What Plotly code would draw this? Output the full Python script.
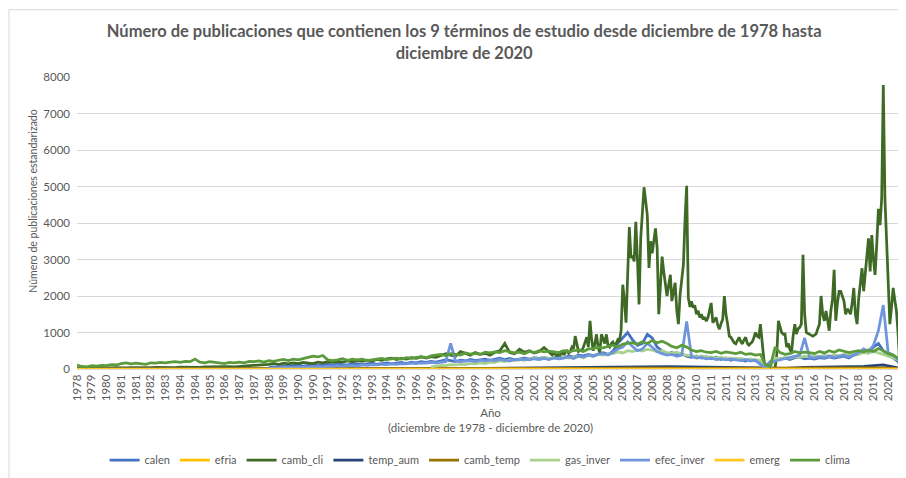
import pandas as pd
import plotly.graph_objects as go

# values (standardised publication counts)

# camb_cli: quarterly 1978-12 .. 2002-12, then monthly 2003-01 .. 2020-12
CAMB_CLI_EARLY = [
    20, 15, 25, 20, 30, 25, 20, 30, 35, 25,
    30, 40, 35, 30, 40, 35, 45, 40, 50, 45,
    40, 50, 45, 55, 50, 45, 55, 60, 50, 60,
    55, 65, 60, 70, 65, 80, 90, 110, 100, 130,
    150, 120, 160, 140, 170, 150, 180, 160, 150, 190,
    170, 200, 180, 210, 190, 220, 200, 230, 210, 240,
    220, 260, 240, 280, 300, 260, 290, 270, 310, 290,
    330, 300, 340, 320, 360, 420, 380, 350, 480, 420,
    380, 450, 400, 430, 380, 460, 500, 700, 450, 420,
    540, 460, 500, 440, 480, 590, 450,
]
CAMB_CLI_LATE = [
    420, 380, 450, 400, 350, 420, 400, 500, 380, 450,
    520, 430, 480, 600, 550, 900, 650, 480, 520, 500,
    600, 750, 870, 600, 1320, 800, 500, 700, 950, 600,
    450, 950, 800, 700, 950, 650, 600, 700, 740, 650,
    700, 800, 750, 1050, 2310, 1900, 1270, 2600, 3890, 3040,
    3100, 2950, 4030, 3000, 1770, 3580, 4200, 4980, 4600, 4210,
    2770, 3500, 3170, 3600, 3850, 3310, 1500, 2300, 3080, 2670,
    2300, 2000, 2300, 2580, 1860, 2100, 2360, 1600, 1230, 2040,
    2500, 2850, 4100, 5020, 1950, 1700, 1850, 1680, 1750, 1500,
    1600, 1410, 1500, 1360, 1420, 1310, 1410, 1650, 1810, 1270,
    1350, 1410, 1200, 1090, 1250, 1360, 2000, 1500, 1230, 900,
    870, 780, 720, 690, 800, 870, 750, 690, 800, 870,
    700, 650, 700, 740, 850, 1000, 900, 870, 1230, 700,
    300, 30, 0, 0, 0, 0, 0, 30, 400, 1320,
    1150, 1000, 950, 960, 600, 700, 550, 450, 900, 1230,
    960, 1100, 1140, 1230, 3126, 1500, 1000, 980, 960, 920,
    900, 930, 960, 1100, 1230, 2000, 1500, 1320, 1590, 1320,
    1050, 1590, 1900, 2720, 1320, 1800, 2130, 2130, 2000, 1860,
    1500, 1650, 1590, 1500, 1800, 2220, 1500, 1230, 1950, 2400,
    2760, 2130, 2580, 3100, 3580, 2670, 3670, 3000, 2580, 3400,
    4390, 3940, 4660, 7780, 4660, 3490, 2130, 1230, 1680, 2220,
    1900, 1590, 960, 90, 0, 0,
]

# clima: quarterly 1978-12 .. 2020-12
CLIMA = [
    110,
    70, 60, 90, 80,  100, 90, 120, 110,  150, 170, 140, 160,
    150, 130, 170, 160,  180, 170, 190, 200,  180, 210, 200, 270,
    190, 170, 200, 180,  160, 150, 180, 170,  190, 170, 210, 200,
    220, 190, 230, 210,  240, 260, 230, 270,  250, 280, 300, 350,
    330, 370, 250, 230,  250, 280, 240, 270,  250, 270, 230, 260,
    270, 290, 260, 280,  300, 270, 310, 290,  320, 340, 310, 360,
    380, 400, 370, 420,  400, 380, 440, 410,  430, 400, 460, 440,
    470, 450, 500, 480,  440, 460, 420, 480,  450, 500, 470, 490,
    480, 450, 500, 470,  500, 520, 480, 550,  560, 600, 580, 620,
    650, 600, 680, 700,  720, 680, 750, 700,  780, 720, 760, 700,
    620, 580, 650, 600,  520, 480, 500, 460,  450, 480, 430, 470,
    440, 420, 460, 400,  420, 380, 400, 120,  60, 600, 450, 400,
    420, 480, 440, 460,  450, 420, 480, 440,  500, 460, 520, 480,
    450, 480, 500, 470,  520, 480, 560, 500,  420, 380, 300, 0,
]

# calen, efec_inver: quarterly 1988-09 .. 2020-12
CALEN = [
    40, 60, 50, 80,  70, 90, 110, 80,  100, 120, 90, 110,
    130, 100, 140, 120,  110, 150, 130, 120,  140, 160, 130, 150,
    170, 140, 160, 180,  150, 190, 170, 200,  180, 210, 190, 220,
    250, 230, 200, 240,  220, 260, 230, 250,  270, 240, 280, 300,
    260, 290, 250, 280,  300, 270, 310, 290,  320, 280, 300, 340,
    310, 350, 330, 380,  360, 400, 370, 420,  450, 400, 480, 700,
    850, 1000, 800, 650,  700, 950, 850, 600,  500, 400, 450, 380,
    420, 350, 320, 360,  300, 340, 280, 320,  260, 300, 240, 280,
    250, 220, 270, 230,  150, 60, 200, 250,  280, 300, 260, 310,
    330, 280, 300, 270,  310, 290, 330, 300,  320, 350, 300, 380,
    420, 500, 450, 600,  700, 500, 400, 300,  200, 0,
]
EFEC_INVER = [
    20, 30, 40, 30,  50, 40, 60, 50,  60, 80, 70, 60,
    80, 70, 90, 80,  90, 100, 80, 110,  100, 120, 110, 130,
    120, 140, 130, 150,  140, 160, 150, 170,  160, 180, 170, 190,
    200, 700, 220, 200,  210, 230, 200, 240,  220, 250, 230, 260,
    240, 220, 260, 250,  270, 250, 280, 260,  290, 260, 300, 280,
    300, 330, 290, 350,  330, 380, 350, 400,  420, 380, 450, 550,
    600, 750, 620, 500,  550, 700, 600, 480,  420, 380, 400, 350,
    380, 1300, 350, 300,  320, 280, 300, 260,  280, 250, 270, 240,
    230, 260, 220, 240,  120, 40, 180, 220,  250, 280, 300, 350,
    380, 850, 320, 300,  340, 310, 360, 320,  350, 380, 330, 400,
    450, 550, 480, 650,  1050, 1750, 450, 380,  250, 0,
]

# gas_inver: quarterly 1996-12 .. 2020-12
GAS_INVER = [
    60,
    80, 100, 90, 120,  110, 130, 120, 150,  140, 170, 150, 190,
    180, 220, 200, 250,  230, 260, 240, 280,  300, 270, 320, 290,
    310, 280, 330, 300,  320, 350, 300, 380,  350, 400, 380, 420,
    420, 470, 440, 500,  480, 520, 490, 540,  520, 470, 500, 450,
    430, 470, 400, 380,  370, 340, 360, 320,  330, 300, 320, 290,
    300, 280, 290, 260,  270, 250, 240, 100,  50, 300, 280, 320,
    300, 340, 320, 350,  330, 360, 340, 370,  350, 380, 360, 400,
    380, 420, 400, 450,  430, 480, 450, 400,  350, 300, 250, 0,
]

# yearly (december) 1978 .. 2020, near the baseline
TEMP_AUM = [0] * 12 + [5, 5, 8, 6, 10, 12, 10, 15, 18, 20, 25,
                       30, 35, 40, 45, 50, 60, 70, 65, 55, 50,
                       45, 40, 35, 20, 45, 50, 60, 70, 110, 0]
CAMB_TEMP = [0] * 12 + [0, 0, 0, 2, 3, 5, 5, 8, 8, 10, 10,
                        12, 15, 15, 20, 20, 25, 30, 25, 20, 20,
                        18, 15, 15, 10, 15, 18, 20, 25, 30, 0]
EFRIA = [0] * 12 + [0, 2, 2, 3, 3, 4, 4, 5, 5, 6, 6,
                    7, 8, 8, 9, 10, 12, 14, 12, 10, 10,
                    9, 8, 8, 5, 8, 9, 10, 11, 12, 0]
EMERG = [0] * 12 + [0, 1, 1, 2, 2, 3, 3, 4, 4, 5, 5,
                    6, 6, 7, 8, 9, 10, 12, 10, 9, 8,
                    8, 7, 7, 4, 7, 8, 9, 10, 11, 0]

TICK_LABELS = [
    "1978", "1979", "1980", "1981", "1981", "1982", "1983", "1984", "1984",
    "1985", "1986", "1987", "1987", "1988", "1989", "1990", "1990", "1991",
    "1992", "1993", "1993", "1994", "1995", "1996", "1996", "1997", "1998",
    "1999", "1999", "2000", "2001", "2002", "2002", "2003", "2004", "2005",
    "2005", "2006", "2007", "2008", "2008", "2009", "2010", "2011", "2011",
    "2012", "2013", "2014", "2014", "2015", "2016", "2017", "2017", "2018",
    "2019", "2020",
]

GREY = "#595959"
FONT = "Lato"


def dates(start, step, n):
    return pd.date_range(start, periods=n, freq=f"{step}MS")


camb_x = list(dates("1978-12-01", 3, len(CAMB_CLI_EARLY))) + \
    list(dates("2003-01-01", 1, len(CAMB_CLI_LATE)))

series = [
    ("calen", dates("1988-09-01", 3, len(CALEN)), CALEN, "#4472C4"),
    ("efria", dates("1978-12-01", 12, len(EFRIA)), EFRIA, "#FFC000"),
    ("camb_cli", camb_x, CAMB_CLI_EARLY + CAMB_CLI_LATE, "#3F6A26"),
    ("temp_aum", dates("1978-12-01", 12, len(TEMP_AUM)), TEMP_AUM, "#264478"),
    ("camb_temp", dates("1978-12-01", 12, len(CAMB_TEMP)), CAMB_TEMP, "#997300"),
    ("gas_inver", dates("1996-12-01", 3, len(GAS_INVER)), GAS_INVER, "#A9D18E"),
    ("efec_inver", dates("1988-09-01", 3, len(EFEC_INVER)), EFEC_INVER, "#6F95DC"),
    ("emerg", dates("1978-12-01", 12, len(EMERG)), EMERG, "#FFC823"),
    ("clima", dates("1978-12-01", 3, len(CLIMA)), CLIMA, "#5B9B3B"),
]

fig = go.Figure()

for name, x, y, color in series:
    fig.add_trace(go.Scatter(
        x=x,
        y=y,
        name=name,
        mode="lines",
        line=dict(color=color, width=2.75)
    ))

tick_pos = dates("1978-12-01", 9, len(TICK_LABELS))

# page body adds an 8px margin, so the figure is 8px smaller and shifted
fig.update_layout(
    width=898,
    height=470,
    paper_bgcolor="white",
    plot_bgcolor="white",
    font=dict(family=FONT, color=GREY, size=11),
    margin=dict(l=69, r=3, t=69, b=106),
    title=dict(
        text="Número de publicaciones que contienen los 9 términos de estudio desde diciembre de 1978 hasta<br>diciembre de 2020",
        x=0.508,
        xanchor="center",
        xref="container",
        y=0.938,
        yref="container",
        yanchor="top",
        font=dict(family=FONT, size=16.5, color=GREY, weight="bold")
    ),
    xaxis=dict(
        type="date",
        range=["1978-12-01", "2020-12-01"],
        tickvals=tick_pos,
        ticktext=TICK_LABELS,
        tickangle=-90,
        tickfont=dict(size=11.5, color=GREY),
        showgrid=False,
        showline=True,
        linecolor="#d9d9d9",
        ticks=""
    ),
    yaxis=dict(
        range=[0, 8000],
        tickvals=list(range(0, 8001, 1000)),
        tickfont=dict(size=11.5, color=GREY),
        ticklabelstandoff=6,
        gridcolor="#d9d9d9",
        zeroline=False,
        ticks=""
    ),
    legend=dict(
        orientation="h",
        x=0.488,
        xanchor="center",
        y=-0.312,
        yanchor="middle",
        font=dict(size=11, color=GREY)
    ),
    showlegend=True
)

fig.add_annotation(
    text="Año<br>(diciembre de 1978 - diciembre de 2020)",
    xref="paper", yref="paper",
    x=0.5, y=-0.1186,
    xanchor="center", yanchor="top",
    showarrow=False,
    font=dict(size=11.5, color=GREY)
)

fig.add_annotation(
    text="Número de publicaciones estandarizado",
    xref="paper", yref="paper",
    x=-0.0533, y=0.576,
    textangle=-90,
    xanchor="center", yanchor="middle",
    showarrow=False,
    font=dict(size=10.5, color=GREY)
)

# light chart-area border, as in the Excel export
fig.add_shape(
    type="rect",
    xref="paper", yref="paper",
    x0=-0.0823, y0=-0.4, x1=1.02, y1=1.2305,
    line=dict(color="#d9d9d9", width=1),
    layer="above"
)

fig.write_html("out.html")
